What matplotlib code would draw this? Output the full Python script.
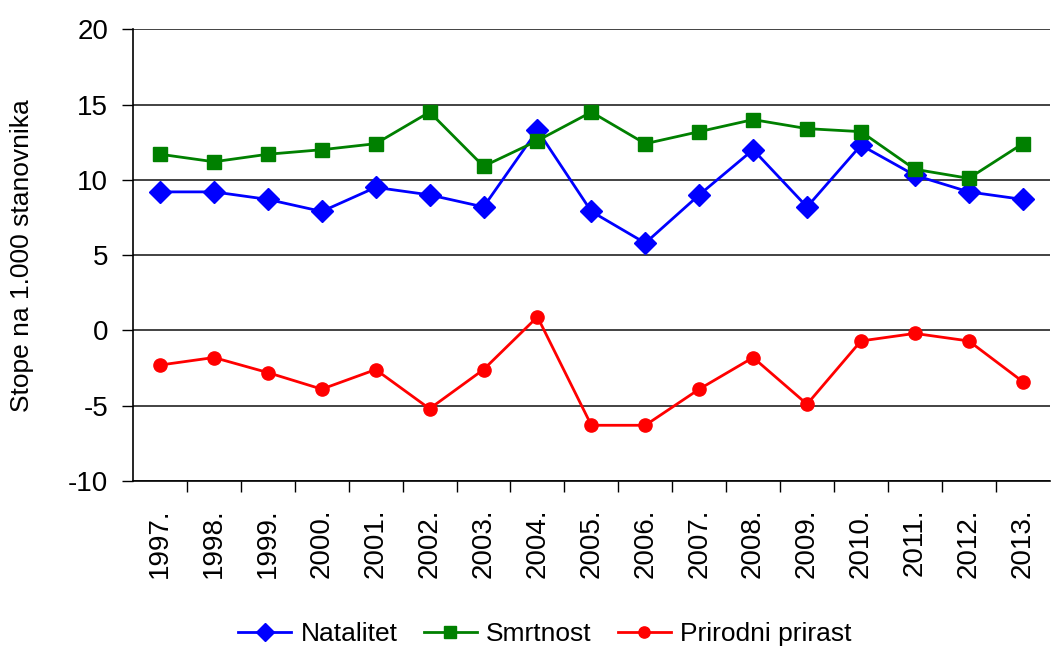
import matplotlib
matplotlib.use("Agg")
import matplotlib.pyplot as plt

years = ["1997.", "1998.", "1999.", "2000.", "2001.", "2002.", "2003.", "2004.",
         "2005.", "2006.", "2007.", "2008.", "2009.", "2010.", "2011.", "2012.",
         "2013."]
natalitet = [9.2, 9.2, 8.7, 7.9, 9.5, 9.0, 8.2, 13.3, 7.9, 5.8, 9.0, 12.0,
             8.2, 12.3, 10.3, 9.2, 8.7]
smrtnost = [11.7, 11.2, 11.7, 12.0, 12.4, 14.5, 10.9, 12.6, 14.5, 12.4, 13.2,
            14.0, 13.4, 13.2, 10.7, 10.1, 12.4]
prirast = [-2.3, -1.8, -2.8, -3.9, -2.6, -5.2, -2.6, 0.9, -6.3, -6.3, -3.9,
           -1.8, -4.9, -0.7, -0.2, -0.7, -3.4]


def main():
    plt.rcParams['font.family'] = ['Liberation Sans', 'DejaVu Sans']
    plt.rcParams['axes.unicode_minus'] = False
    fig = plt.figure(figsize=(10.56, 6.5), dpi=100)
    ax = fig.add_axes([0.126, 0.26, 0.868, 0.695])

    x = range(len(years))
    ax.plot(x, natalitet, color='#0000ff', lw=2, marker='D', ms=11,
            label='Natalitet', zorder=3)
    ax.plot(x, smrtnost, color='#008000', lw=2, marker='s', ms=10,
            label='Smrtnost', zorder=3)
    ax.plot(x, prirast, color='#ff0000', lw=2, marker='o', ms=9.5,
            label='Prirodni prirast', zorder=3)

    ax.set_xlim(-0.5, len(years) - 0.5)
    ax.set_ylim(-10, 20)
    ax.set_yticks(range(-10, 21, 5))
    ax.yaxis.grid(True, color='#222222', lw=1.2)
    ax.set_axisbelow(True)

    # category boundaries get the tick marks, labels sit in between
    ax.set_xticks([i + 0.5 for i in range(len(years) - 1)])
    ax.set_xticklabels([])
    ax.set_xticks(list(x), minor=True)
    ax.set_xticklabels(years, minor=True, rotation=90, fontsize=20)
    ax.tick_params(axis='x', which='major', length=8, width=1, direction='out')
    ax.tick_params(axis='x', which='minor', length=0, pad=20)
    ax.tick_params(axis='y', length=8, width=1, labelsize=20, pad=10)

    for side in ['top', 'right']:
        ax.spines[side].set_visible(False)
    ax.spines['left'].set_linewidth(1.2)
    ax.spines['bottom'].set_linewidth(1.2)

    ax.set_ylabel('Stope na 1.000 stanovnika', fontsize=19, labelpad=24)

    fig.legend(loc='lower center', bbox_to_anchor=(0.516, -0.03), ncol=3,
               frameon=False, fontsize=19, handlelength=2.0,
               columnspacing=1.0, handletextpad=0.35, markerscale=0.85)

    fig.savefig('out.png', dpi=100)


if __name__ == "__main__":
    main()
